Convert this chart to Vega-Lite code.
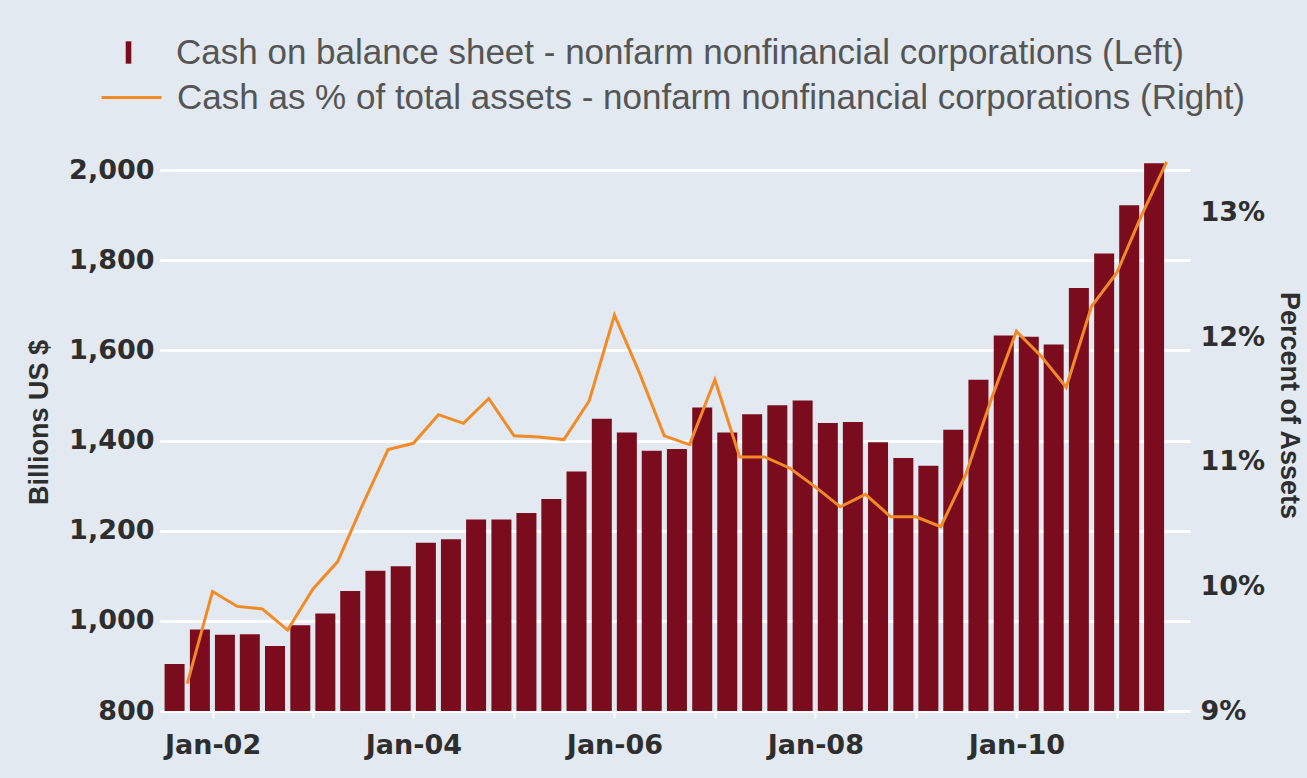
{
  "$schema": "https://vega.github.io/schema/vega-lite/v6.json",
  "width": 1030,
  "height": 541,
  "autosize": "none",
  "padding": {"left": 160, "top": 170, "right": 117, "bottom": 67},
  "background": "#e2e9f0",
  "config": {
    "view": {"stroke": null},
    "axis": {"labelColor": "#2e2e2e", "titleColor": "#2e2e2e", "labelFont": "DejaVu Sans", "labelFontWeight": "bold", "labelFontSize": 27, "titleFont": "Liberation Sans", "titleFontWeight": "bold", "titleFontSize": 27},
    "legend": {"labelFont": "Liberation Sans", "labelFontSize": 35, "labelColor": "#555555", "labelLimit": 1300, "padding": 0}
  },
  "data": {
    "values": [
      {"quarter": "2001-07-01", "cash": 904, "pct": 9.22},
      {"quarter": "2001-10-01", "cash": 981, "pct": 9.96},
      {"quarter": "2002-01-01", "cash": 969, "pct": 9.84},
      {"quarter": "2002-04-01", "cash": 970, "pct": 9.82},
      {"quarter": "2002-07-01", "cash": 944, "pct": 9.65},
      {"quarter": "2002-10-01", "cash": 990, "pct": 9.98},
      {"quarter": "2003-01-01", "cash": 1016, "pct": 10.2},
      {"quarter": "2003-04-01", "cash": 1066, "pct": 10.66},
      {"quarter": "2003-07-01", "cash": 1111, "pct": 11.1},
      {"quarter": "2003-10-01", "cash": 1121, "pct": 11.15},
      {"quarter": "2004-01-01", "cash": 1173, "pct": 11.38},
      {"quarter": "2004-04-01", "cash": 1181, "pct": 11.31},
      {"quarter": "2004-07-01", "cash": 1225, "pct": 11.51},
      {"quarter": "2004-10-01", "cash": 1225, "pct": 11.21},
      {"quarter": "2005-01-01", "cash": 1239, "pct": 11.2},
      {"quarter": "2005-04-01", "cash": 1270, "pct": 11.18},
      {"quarter": "2005-07-01", "cash": 1331, "pct": 11.49},
      {"quarter": "2005-10-01", "cash": 1448, "pct": 12.18},
      {"quarter": "2006-01-01", "cash": 1418, "pct": 11.72},
      {"quarter": "2006-04-01", "cash": 1377, "pct": 11.21},
      {"quarter": "2006-07-01", "cash": 1381, "pct": 11.14},
      {"quarter": "2006-10-01", "cash": 1473, "pct": 11.66},
      {"quarter": "2007-01-01", "cash": 1418, "pct": 11.04},
      {"quarter": "2007-04-01", "cash": 1458, "pct": 11.04},
      {"quarter": "2007-07-01", "cash": 1478, "pct": 10.95},
      {"quarter": "2007-10-01", "cash": 1489, "pct": 10.8},
      {"quarter": "2008-01-01", "cash": 1439, "pct": 10.64},
      {"quarter": "2008-04-01", "cash": 1441, "pct": 10.74},
      {"quarter": "2008-07-01", "cash": 1396, "pct": 10.56},
      {"quarter": "2008-10-01", "cash": 1361, "pct": 10.56},
      {"quarter": "2009-01-01", "cash": 1344, "pct": 10.48},
      {"quarter": "2009-04-01", "cash": 1424, "pct": 10.9},
      {"quarter": "2009-07-01", "cash": 1535, "pct": 11.5},
      {"quarter": "2009-10-01", "cash": 1633, "pct": 12.05},
      {"quarter": "2010-01-01", "cash": 1630, "pct": 11.85},
      {"quarter": "2010-04-01", "cash": 1613, "pct": 11.6},
      {"quarter": "2010-07-01", "cash": 1738, "pct": 12.25},
      {"quarter": "2010-10-01", "cash": 1815, "pct": 12.52},
      {"quarter": "2011-01-01", "cash": 1922, "pct": 12.98},
      {"quarter": "2011-04-01", "cash": 2015, "pct": 13.41}
    ]
  },
  "layer": [
    {
      "mark": {"type": "bar", "width": 20},
      "encoding": {
        "x": {
          "field": "quarter", "type": "temporal", "timeUnit": "yearquarter", "bandPosition": 0.5,
          "scale": {"domain": ["2001-06-24", "2011-09-24"]},
          "axis": {
            "title": null,
            "values": [{"year": 2002}, {"year": 2003}, {"year": 2004}, {"year": 2005}, {"year": 2006}, {"year": 2007}, {"year": 2008}, {"year": 2009}, {"year": 2010}, {"year": 2011}],
            "labelExpr": "year(datum.value) % 2 == 0 ? timeFormat(datum.value, '%b-%y') : ''",
            "domain": false, "grid": false, "ticks": true, "tickColor": "#ffffff", "tickWidth": 2, "tickSize": 7,
            "labelPadding": 14, "labelFlush": false, "labelOverlap": false
          }
        },
        "y": {
          "field": "cash", "type": "quantitative",
          "scale": {"domain": [800, 2000], "nice": false, "zero": false},
          "axis": {
            "title": "Billions US $", "titleX": -107, "titleY": 252, "titleAngle": -90,
            "values": [800, 1000, 1200, 1400, 1600, 1800, 2000], "format": ",.0f",
            "grid": true, "gridColor": "#ffffff", "gridWidth": 3, "domain": false, "ticks": false, "labelPadding": 6
          }
        },
        "y2": {"datum": 800},
        "fill": {
          "datum": "Cash on balance sheet - nonfarm nonfinancial corporations  (Left)",
          "scale": {"range": ["#7a0c1e"]},
          "legend": {"title": null, "orient": "none", "legendX": -49, "legendY": -135, "symbolType": "M-0.25,-1H0.25V1H-0.25Z", "symbolSize": 500, "symbolStrokeWidth": 0, "labelOffset": 30}
        }
      }
    },
    {
      "mark": {"type": "line", "strokeWidth": 3},
      "encoding": {
        "x": {"field": "quarter", "type": "temporal", "timeUnit": "yearquarter", "bandPosition": 1},
        "y": {
          "field": "pct", "type": "quantitative",
          "scale": {"domain": [9, 13.345], "nice": false, "zero": false},
          "axis": {
            "orient": "right", "title": "Percent of Assets", "titleAngle": 90, "titleX": 84, "titleY": 235,
            "values": [9, 10, 11, 12, 13], "labelExpr": "datum.value + '%'",
            "grid": false, "domain": false, "ticks": false, "labelPadding": 10
          }
        },
        "stroke": {
          "datum": "Cash as % of total assets - nonfarm nonfinancial corporations  (Right)",
          "scale": {"range": ["#f28a25"]},
          "legend": {"title": null, "orient": "none", "legendX": -60, "legendY": -104, "symbolType": "stroke", "symbolSize": 3600, "symbolStrokeWidth": 3, "labelOffset": 14}
        }
      }
    }
  ],
  "resolve": {"scale": {"y": "independent"}}
}
